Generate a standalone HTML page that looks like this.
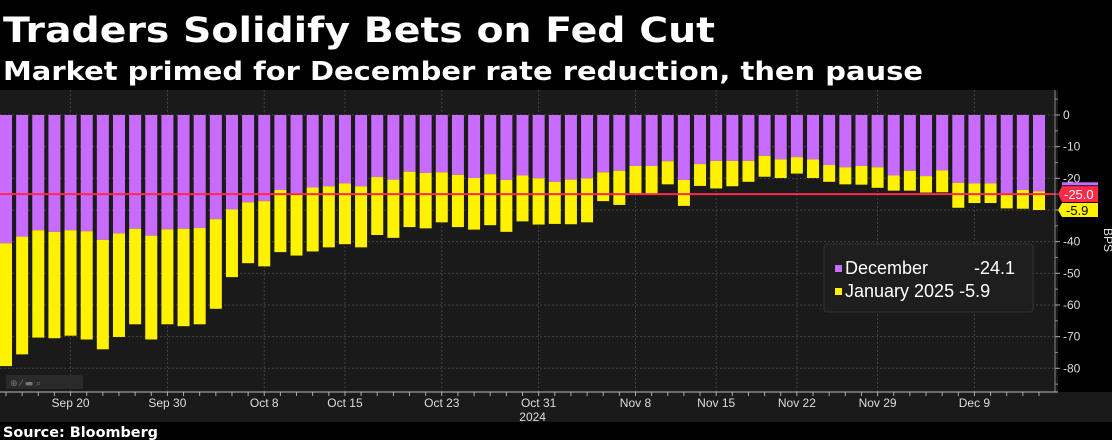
<!DOCTYPE html>
<html><head><meta charset="utf-8"><style>
html,body{margin:0;padding:0;background:#000;}
svg{display:block;font-family:"DejaVu Sans","Liberation Sans",sans-serif;}
</style></head><body>
<svg id="c" width="1112" height="440" viewBox="0 0 1112 440" xmlns="http://www.w3.org/2000/svg">
<rect x="0" y="0" width="1112" height="440" fill="#000"/>
<text x="3" y="42" font-size="35" font-weight="bold" fill="#fff" textLength="712" lengthAdjust="spacingAndGlyphs">Traders Solidify Bets on Fed Cut</text>
<text x="3" y="80" font-size="26" font-weight="bold" fill="#fff" textLength="920" lengthAdjust="spacingAndGlyphs">Market primed for December rate reduction, then pause</text>
<rect x="0" y="90" width="1058" height="332" fill="#1a1a1a"/>
<rect x="0" y="392" width="1112" height="30" fill="#1a1a1a"/>
<g id="grid"></g>
<g id="bars"></g>
<g id="axes"></g>
<text x="3" y="437" font-size="14" font-weight="bold" fill="#fff" textLength="155" lengthAdjust="spacingAndGlyphs">Source: Bloomberg</text>
<g>
<rect x="6" y="375" width="77" height="14" fill="#2a2a2a"/>
<text x="10" y="386" font-size="9" fill="#777">⊕  ⁄  ▬  ⌕</text>
</g>
<g>
<rect x="824" y="244" width="209" height="68" rx="3" fill="#1e1e1e" stroke="#333"/>
<rect x="835" y="265" width="7" height="7" fill="#c86bff"/>
<text x="845" y="274" font-size="18" fill="#fff" font-family="Liberation Sans, sans-serif">December</text>
<text x="974" y="274" font-size="18" fill="#fff" font-family="Liberation Sans, sans-serif">-24.1</text>
<rect x="835" y="288" width="7" height="7" fill="#fff200"/>
<text x="845" y="297" font-size="18" fill="#fff" font-family="Liberation Sans, sans-serif">January 2025 -5.9</text>
</g>
</svg>
<script>
const categories = ["Sep 16","Sep 17","Sep 18","Sep 19","Sep 20","Sep 23","Sep 24","Sep 25","Sep 26","Sep 27","Sep 30","Oct 1","Oct 2","Oct 3","Oct 4","Oct 7","Oct 8","Oct 9","Oct 10","Oct 11","Oct 14","Oct 15","Oct 16","Oct 17","Oct 18","Oct 21","Oct 22","Oct 23","Oct 24","Oct 25","Oct 28","Oct 29","Oct 30","Oct 31","Nov 1","Nov 4","Nov 5","Nov 6","Nov 7","Nov 8","Nov 11","Nov 12","Nov 13","Nov 14","Nov 15","Nov 18","Nov 19","Nov 20","Nov 21","Nov 22","Nov 25","Nov 26","Nov 27","Nov 28","Nov 29","Dec 2","Dec 3","Dec 4","Dec 5","Dec 6","Dec 9","Dec 10","Dec 11","Dec 12","Dec 13"];
const december = [-40.5,-38.4,-36.4,-36.9,-36.4,-36.7,-39.4,-37.4,-35.9,-38.1,-36.1,-35.9,-35.7,-32.9,-29.8,-27.6,-27.2,-23.7,-24.7,-22.9,-22.5,-21.6,-22.5,-19.6,-20.4,-17.9,-18.3,-18.1,-18.9,-19.9,-18.7,-20.5,-19.1,-20.0,-21.1,-20.4,-20.0,-18.1,-17.6,-16.1,-16.1,-14.6,-20.5,-15.5,-14.5,-14.5,-14.5,-12.9,-14.0,-13.3,-14.0,-15.8,-16.5,-16.1,-16.5,-19.1,-17.6,-19.3,-17.5,-21.4,-21.6,-21.6,-24.8,-23.7,-24.1];
const january2025 = [-38.8,-37.2,-33.9,-33.6,-33.3,-34.2,-34.6,-32.7,-30.2,-32.8,-30.0,-30.8,-30.4,-28.3,-21.4,-19.2,-20.6,-19.6,-19.7,-20.2,-19.3,-19.2,-19.3,-18.3,-18.4,-17.5,-17.5,-15.8,-16.5,-16.3,-16.1,-16.4,-14.5,-14.6,-13.3,-14.1,-13.9,-9.1,-10.8,-8.8,-8.8,-7.3,-8.2,-6.9,-8.7,-8.0,-6.6,-6.6,-5.9,-5.2,-5.9,-5.3,-5.4,-5.9,-6.5,-4.8,-6.3,-5.2,-6.9,-7.9,-6.2,-6.2,-4.7,-5.9,-5.9];
const yTicks = [0,-10,-20,-30,-40,-50,-60,-70,-80];
const xLabelIdx = [4,10,16,21,27,33,39,44,49,54,60];
const refLevel = -25.0;

const NS="http://www.w3.org/2000/svg";
const y0=115, pxPerUnit=253.3/80, x0=6, step=1033/64, bw=12, axisX=1055;
const yS=v=>y0 - v*pxPerUnit;
const xS=i=>x0 + i*step;
function mk(tag,attrs,parent){const e=document.createElementNS(NS,tag);for(const k in attrs)e.setAttribute(k,attrs[k]);parent.appendChild(e);return e;}
const grid=document.getElementById('grid'), bars=document.getElementById('bars'), axes=document.getElementById('axes');
yTicks.forEach(t=>{
  const l=mk('line',{x1:0,x2:axisX,y1:yS(t),y2:yS(t),stroke:'#444','stroke-dasharray':'2,2'},grid);
  
  
  const tk=mk('line',{x1:axisX,x2:axisX+5,y1:yS(t),y2:yS(t),stroke:'#aaa'},axes);
  
  
  const tx=mk('text',{x:1063,y:yS(t)+4,'font-size':12,fill:'#ddd','font-family':'Liberation Sans, sans-serif'},axes);
  tx.textContent=String(t);
  
  
});
for(let v=5;v>=-85;v-=10){const m=mk('line',{x1:axisX,x2:axisX+3,y1:yS(v),y2:yS(v),stroke:'#888'},axes);}
xLabelIdx.forEach(i=>{
  const l=mk('line',{x1:xS(i),x2:xS(i),y1:90,y2:392,stroke:'#444','stroke-dasharray':'2,2'},grid);
  
  
  const tx=mk('text',{x:xS(i),y:407,'font-size':12,fill:'#ddd','text-anchor':'middle','font-family':'Liberation Sans, sans-serif'},axes);
  tx.textContent=categories[i];
  
  
});
const yr=mk('text',{x:xS(33)-6,y:421,'font-size':12,fill:'#ddd','text-anchor':'middle','font-family':'Liberation Sans, sans-serif'},axes);
yr.textContent='2024';


categories.forEach((c,i)=>{
  const d=december[i], j=january2025[i];
  const p=mk('rect',{x:xS(i)-bw/2,y:yS(0),width:bw,height:yS(d)-yS(0),fill:'#c86bff'},bars);
  
  
  const q=mk('rect',{x:xS(i)-bw/2,y:yS(d),width:bw,height:yS(d+j)-yS(d),fill:'#fff200'},bars);
  
  
  mk('line',{x1:xS(i),x2:xS(i),y1:392,y2:396,stroke:'#aaa'},axes);
});
const rl=mk('line',{x1:0,x2:axisX,y1:yS(refLevel),y2:yS(refLevel),stroke:'#ff2a4a','stroke-width':2},bars);


mk('line',{x1:axisX,x2:axisX,y1:90,y2:392,stroke:'#888'},axes);
mk('line',{x1:0,x2:1058,y1:392,y2:392,stroke:'#bbb'},axes);
const last=categories.length-1;
const dl=december[last], jl=december[last]+january2025[last];
mk('rect',{x:1062,y:yS(dl)-9,width:36,height:3,fill:'#c86bff'},axes);
const rb=mk('path',{d:`M1058 ${yS(refLevel)} L1062 ${yS(refLevel)-8} H1098 V${yS(refLevel)+8} H1062 Z`,fill:'#ff2a4a'},axes);


const rt=mk('text',{x:1064,y:yS(refLevel)+5,'font-size':13,fill:'#fff','font-family':'Liberation Sans, sans-serif'},axes);
rt.textContent=refLevel.toFixed(1);
const yb=mk('path',{d:`M1058 ${yS(jl)} L1062 ${yS(jl)-7} H1098 V${yS(jl)+7} H1062 Z`,fill:'#fff200'},axes);


const yt=mk('text',{x:1066,y:yS(jl)+5,'font-size':13,fill:'#000','font-family':'Liberation Sans, sans-serif'},axes);
yt.textContent=january2025[last].toFixed(1);
const bp=mk('text',{x:1104,y:240,'font-size':12,fill:'#ddd',transform:'rotate(90 1104 240)','text-anchor':'middle','font-family':'Liberation Sans, sans-serif'},axes);
bp.textContent='BPS';


</script>
</body></html>
